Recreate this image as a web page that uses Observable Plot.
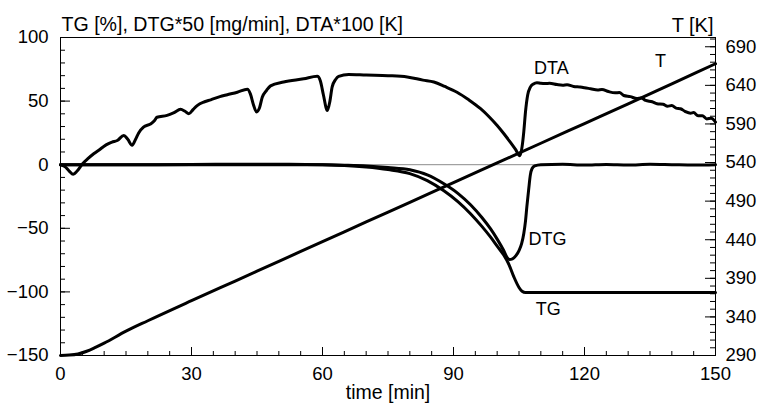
<!DOCTYPE html>
<html><head><meta charset="utf-8">
<script src="https://cdn.jsdelivr.net/npm/d3@7"></script>
<script src="https://cdn.jsdelivr.net/npm/@observablehq/plot@0.6"></script>
<style>body{margin:0;background:#fff}</style>
</head><body><div id="chart"></div>
<script>
// ---- data ----
const dtaTime = [0,1,2,2.9,3.8,5,6.2,7.6,9,9.9,11,11.8,13,14.5,15.4,16.4,17.2,17.9,19,20.6,21.5,22.1,24.4,26,27.5,28.5,29.4,30.4,31.3,33,34.4,36.5,38.2,40.5,42.8,43.5,44.2,44.9,45.6,46.2,47.2,48.1,51.1,55.7,58.8,59.5,60.2,61.1,61.7,62.2,63,63.7,66,70,75,79.4,83,85.5,88,90.8,93.5,96.2,98.2,100,101.5,103,104.2,105.2,105.7,106.1,106.5,107,107.6,108.3,109.1,110,111,112,113.7,115,116,117.5,119,120,121.4,123,124,125.5,127,128,129,130.5,132,133,134,135.5,136.6,138,139,140,141,142,143,144.3,145,146,147,148,149,150];
const dtaValue = [0,-1.5,-5,-7.5,-5,0.5,4.5,8.6,12,14.3,16.5,17.7,19,23,20,15.3,20,25,29.5,32,34.5,37.3,38.8,41,43.5,42,40,43.5,46.5,49.5,51,53.5,55,57,59.3,55.5,47,41.5,45,53,58.5,62,65,67.5,69.5,66,55,42.6,50,61,67,69.5,71,70.5,70,69,66.5,65,61.5,57,51,44,37.5,30.8,24.5,17.7,12,7,14,26,42,55,61,63.5,64.5,64,63.8,64,63,62.5,62.8,61.5,61,60.5,59.7,58.8,59.2,57.5,56.5,56.8,54.4,53.5,52,52.5,50.5,49.5,47.9,47.5,46,46.5,44.5,44,42,40.5,41,38.5,38.5,36,36.5,33.5];

const dtgTime = [0,10,20,30,40,50,60,65,70,75,80,84,87.8,91,93.9,96.5,98.5,100,101.5,102.3,102.8,103.5,104.3,105,105.6,106.1,106.5,106.8,107.2,107.6,108,108.6,110,115,120,125,130,135,140,145,150];
const dtgValue = [0,0,0,0.2,0.3,0.3,0,-0.4,-1,-2.2,-4,-8,-15,-22.5,-31.5,-41.5,-50.5,-58.5,-67.5,-73,-74.5,-74,-71.5,-67.5,-62,-54,-44,-33,-20,-8,-3,-1,0,0.3,-0.3,0.2,-0.2,0.3,0,-0.3,0];

const tgTime = [0,30,60,65,70,75,80,84,87.8,91,93.9,96.5,98.5,100,101.5,102.7,103.8,105,105.7,106.5,108,110,120,130,140,150];
const tgValue = [0,0,0,-0.6,-1.8,-3.8,-7,-12.5,-20.5,-29,-38.5,-48.5,-57,-64,-71,-78.5,-88,-96.5,-99.5,-100.5,-100.5,-100.5,-100.5,-100.5,-100.5,-100.5];

const tempTime = [0,2,4,6,8,10,15,20,30,40,50,60,70,80,90,100,110,120,130,140,150];
const tempValue = [290,290.5,292,295.5,300.5,306,321.5,335,361,386.5,412,437.5,463,488.5,514,539.5,565,590.5,616,642,668];

const curveNames = ["DTA", "DTG", "TG", "T"];
const labelTime = [112.4, 111.5, 111.7, 137.4];
const labelValue = [75.6, -58.8, -113.8, 81];

const leftMajor = [-150, -100, -50, 0, 50, 100];
const leftMinor = d3.range(-150, 101, 10);
const rightMajor = [290, 340, 390, 440, 490, 540, 590, 640, 690];
const rightMinor = d3.range(290, 701, 10);
const timeMajor = [0, 30, 60, 90, 120, 150];
const timeMinor = d3.range(0, 151, 5);

const leftTitle = "TG [%], DTG*50 [mg/min], DTA*100 [K]";
const rightTitle = "T [K]";
const xTitle = "time [min]";

// ---- secondary axis mapping (T in K onto the left scale) ----
const toLeft = d3.scaleLinear().domain([290, 702]).range([-150, 100]);

const rows = (name, ts, vs, f = (v) => v) => ts.map((t, i) => ({series: name, t, v: f(vs[i])}));
const curves = [
  ...rows("DTA", dtaTime, dtaValue),
  ...rows("DTG", dtgTime, dtgValue),
  ...rows("TG", tgTime, tgValue),
  ...rows("T", tempTime, tempValue, toLeft)
];
const labels = curveNames.map((name, i) => ({name, t: labelTime[i], v: labelValue[i]}));

const W = 760, H = 412, mT = 37, mB = 57, mL = 60, mR = 45;
const fw = W - mL - mR, fh = H - mT - mB;

const chart = Plot.plot({
  width: W, height: H,
  marginTop: mT, marginBottom: mB, marginLeft: mL, marginRight: mR,
  x: {domain: [0, 150]},
  y: {domain: [-150, 100]},
  style: {fontFamily: "'Liberation Sans', Arial, Helvetica, sans-serif", fontSize: "18px", color: "#000", background: "#fff", overflow: "visible"},
  marks: [
    Plot.ruleY([0], {stroke: "#8c8c8c", strokeWidth: 1}),
    // ticks (inward)
    Plot.tickY(leftMajor, {y: (d) => d, insetRight: fw - 10, stroke: "#000"}),
    Plot.tickY(leftMinor, {y: (d) => d, insetRight: fw - 5, stroke: "#000"}),
    Plot.tickY(rightMajor.map(toLeft), {y: (d) => d, insetLeft: fw - 10, stroke: "#000"}),
    Plot.tickY(rightMinor.map(toLeft), {y: (d) => d, insetLeft: fw - 5, stroke: "#000"}),
    Plot.tickX(timeMajor, {x: (d) => d, insetTop: fh - 8, stroke: "#000"}),
    Plot.tickX(timeMinor, {x: (d) => d, insetTop: fh - 4, stroke: "#000"}),
    // tick labels
    Plot.axisY(leftMajor, {anchor: "left", tickSize: 0, tickPadding: 12, label: null, fontSize: 18.5}),
    Plot.axisY(rightMajor.map(toLeft), {anchor: "right", tickSize: 0, tickPadding: 10, label: null, fontSize: 18.5, tickFormat: (v) => String(Math.round(toLeft.invert(v)))}),
    Plot.axisX(timeMajor, {anchor: "bottom", tickSize: 0, tickPadding: 11, label: null, fontSize: 18.5}),
    // curves
    Plot.line(curves, {x: "t", y: "v", z: "series", stroke: "#000", strokeWidth: 3, curve: "monotone-x"}),
    Plot.text(labels, {x: "t", y: "v", text: "name", fontSize: 18, textAnchor: "middle"}),
    Plot.frame({stroke: "#000", strokeWidth: 1}),
    // titles
    Plot.text([leftTitle], {frameAnchor: "top-left", dx: 1, dy: -20, textAnchor: "start", fontSize: 19.6}),
    Plot.text([rightTitle], {frameAnchor: "top-right", dx: -2, dy: -20, textAnchor: "end", fontSize: 20}),
    Plot.text([xTitle], {frameAnchor: "bottom", dy: 43, fontSize: 19.5})
  ]
});
document.getElementById("chart").appendChild(chart);
</script>
</body></html>
